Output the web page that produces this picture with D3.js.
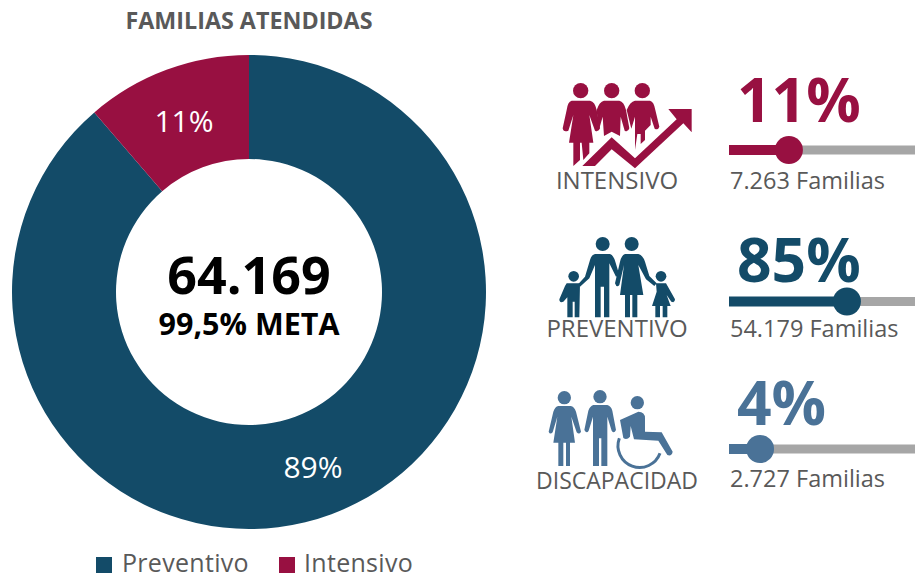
<!DOCTYPE html>
<html><head><meta charset="utf-8">
<script src="https://cdn.jsdelivr.net/npm/d3@7"></script>
<style>html,body{margin:0;padding:0;background:#fff}svg{display:block}text{font-family:"Open Sans","Noto Sans",sans-serif}</style>
</head><body><svg id="c" width="915" height="580"></svg>
<script>
const donutCategories = ["Preventivo", "Intensivo"];
const donutValues = [56906, 7263];
const donutLabels = ["89%", "11%"];
const rowNames = ["INTENSIVO", "PREVENTIVO", "DISCAPACIDAD"];
const rowPercents = ["11%", "85%", "4%"];
const rowFamilies = ["7.263 Familias", "54.179 Familias", "2.727 Familias"];
const rowSlider = [0.322, 0.634, 0.167];
const NAVY = "#134B68", CRIMSON = "#981041", STEEL = "#4A7297", GREY = "#A6A6A6", TXT = "#595959";
const rowColors = [CRIMSON, NAVY, STEEL];
const rowY = [150, 301.5, 449];
const rowPctY = [122, 282, 425];
const rowFamY = [189, 337, 487];
const rowNameY = [189, 337, 489];
const rowNameSize = [24, 24, 23];

const svg = d3.select("#c");
svg.append("text").attr("x", 249).attr("y", 29).attr("text-anchor", "middle")
  .attr("font-size", 23.3).attr("font-weight", 700).attr("fill", TXT).text("FAMILIAS ATENDIDAS");

// donut
const pie = d3.pie().sort(null)(donutValues);
const arc = d3.arc().innerRadius(133).outerRadius(237);
const color = d3.scaleOrdinal(donutCategories, [NAVY, CRIMSON]);
const g = svg.append("g").attr("transform", "translate(249,292)");
g.selectAll("path").data(pie).join("path").attr("d", arc)
  .attr("fill", (d, i) => color(donutCategories[i]));
const labelPos = [[64, 175], [-65, -171]];
g.selectAll("text.l").data(pie).join("text").attr("class", "l")
  .attr("x", (d, i) => labelPos[i][0]).attr("y", (d, i) => labelPos[i][1] + 11)
  .attr("text-anchor", "middle").attr("font-size", 30).attr("fill", "#fff")
  .text((d, i) => donutLabels[i]);
svg.append("text").attr("x", 249).attr("y", 294).attr("text-anchor", "middle")
  .attr("font-size", 52).attr("font-weight", 700).attr("fill", "#000").text("64.169");
svg.append("text").attr("x", 249).attr("y", 335).attr("text-anchor", "middle")
  .attr("font-size", 30.5).attr("font-weight", 700).attr("fill", "#000").text("99,5% META");

// legend
[[96, 122], [279, 304]].forEach((p, i) => {
  svg.append("rect").attr("x", p[0]).attr("y", 557).attr("width", 16).attr("height", 16).attr("fill", color(donutCategories[i]));
  svg.append("text").attr("x", p[1]).attr("y", 572).attr("font-size", 25).attr("letter-spacing", 0.3).attr("fill", TXT).text(donutCategories[i]);
});

// sliders
const x = d3.scaleLinear().domain([0, 1]).range([729, 915]);
rowNames.forEach((name, i) => {
  const c = rowColors[i], y = rowY[i];
  svg.append("line").attr("x1", x(0)).attr("x2", x(1)).attr("y1", y).attr("y2", y).attr("stroke", GREY).attr("stroke-width", 9);
  svg.append("line").attr("x1", x(0)).attr("x2", x(rowSlider[i])).attr("y1", y).attr("y2", y).attr("stroke", c).attr("stroke-width", 10);
  svg.append("circle").attr("cx", x(rowSlider[i])).attr("cy", y).attr("r", 14).attr("fill", c);
  svg.append("text").attr("x", 737).attr("y", rowPctY[i]).attr("font-size", 60.5).attr("font-weight", 700).attr("fill", c).text(rowPercents[i]);
  svg.append("text").attr("x", 730).attr("y", rowFamY[i]).attr("font-size", 23.5).attr("fill", TXT).text(rowFamilies[i]);
  svg.append("text").attr("x", 617).attr("y", rowNameY[i]).attr("text-anchor", "middle").attr("font-size", rowNameSize[i]).attr("fill", TXT).text(name);
});

// pictograms, drawn in 3x crop units
function icon(ox, oy, col, paths, heads) {
  const ic = svg.append("g").attr("transform", `translate(${ox},${oy}) scale(${1/3})`).attr("fill", col);
  paths.forEach(d => ic.append("path").attr("d", d));
  heads.forEach(h => ic.append("circle").attr("cx", h[0]).attr("cy", h[1]).attr("r", h[2]));
  return ic;
}
icon(530, 60, CRIMSON, [
  "M125 122L180 122Q195 125 200 150L210 205Q205 218 195 212L178 165L190 248L178 248L178 280L160 300L155 248L150 248L150 300L130 318L130 248L117 248L130 165L115 212Q100 218 98 205L110 150Q113 125 125 122Z",
  "M222 122L268 122Q282 125 288 150L298 205Q294 218 284 212L272 170L270 228L245 215L222 228L218 170L206 212L200 150Q208 125 222 122Z",
  "M315 122L360 122Q372 125 376 150L388 200Q384 212 374 206L362 170L362 195L345 212L345 240L332 252L332 222L322 222L315 270L315 170L304 206L290 150Q300 125 315 122Z",
  "M157 318L245 232L315 295L440 178L415 147L485 147L485 217L460 190L315 325L245 268L195 318Z"
], [[152, 92, 23], [245, 92, 23], [337, 92, 23]]);
icon(530, 220, NAVY, [
  "M195 102L240 102Q250 105 256 125L268 165L258 170L238 130L238 292L222 292L222 200L212 200L212 292L195 292L195 135L178 175L150 200L145 192L165 170L180 120Q185 104 195 102Z",
  "M285 102L325 102Q338 105 345 125L358 168L380 190L373 198L348 178L325 135L340 225L322 225L322 292L307 292L307 225L300 225L300 292L285 292L285 225L270 225L282 135L268 195Q260 205 255 190L270 125Q275 105 285 102Z",
  "M110 190L150 190L148 292L134 292L134 245L128 245L128 292L112 292L112 232L100 245Q88 250 88 238L105 198Z",
  "M378 190L408 190L435 238Q435 250 424 245L410 225L422 258L412 258L412 292L398 292L398 258L390 258L390 292L376 292L376 258L366 258L380 215Z"
], [[218, 72, 21], [305, 72, 21], [131, 169, 16], [393, 169, 16]]);
const ic3 = icon(530, 370, STEEL, [
  "M85 108L122 108Q133 110 138 125L153 185Q148 195 140 187L124 140L135 218L120 218L120 288L108 288L108 218L100 218L100 288L85 288L85 218L70 218L82 140L68 187Q60 195 56 185L70 125Q75 110 85 108Z",
  "M190 105L232 105Q243 108 247 122L258 180Q252 192 245 182L232 140L232 288L214 288L214 205L207 205L207 288L189 288L189 140L176 182Q170 192 163 180L175 122Q180 108 190 105Z",
  "M270 150L325 125Q345 125 345 145L345 185L395 187L428 245Q425 260 412 255L385 212L312 208L302 168L300 200Q290 212 280 204Z"
], [[103, 83, 20], [210, 80, 20], [322, 98, 20]]);
ic3.append("path").attr("d", "M268 205A65 65 0 0 0 390 250").attr("fill", "none").attr("stroke", STEEL).attr("stroke-width", 9);
</script></body></html>
